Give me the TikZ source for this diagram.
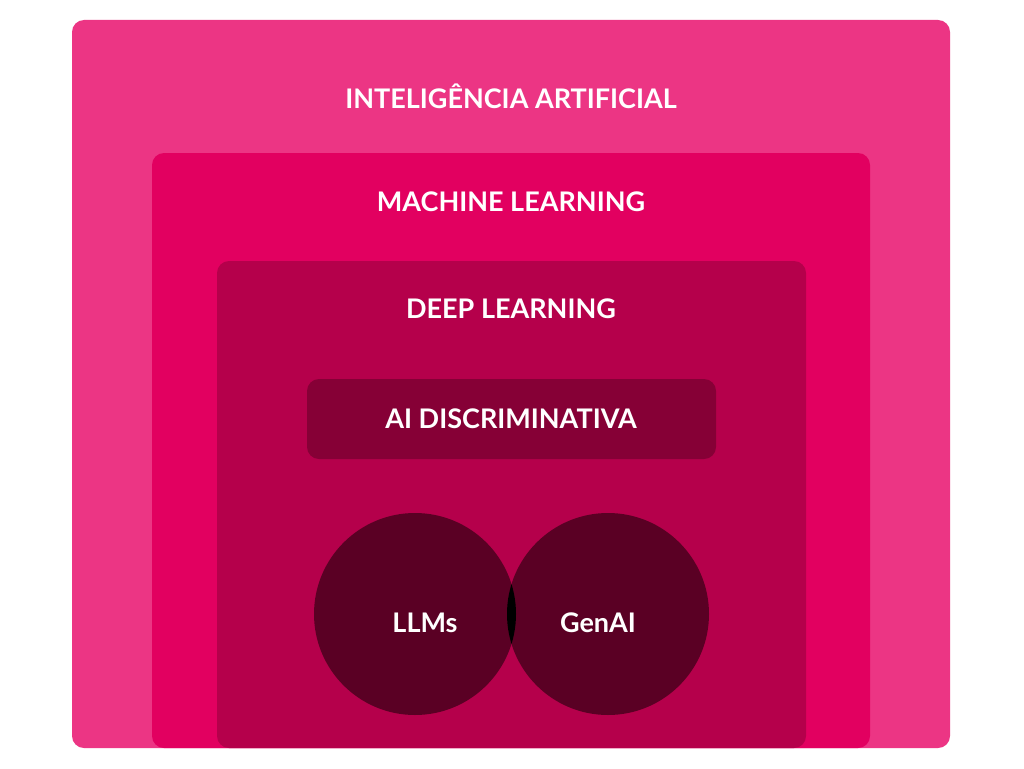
\documentclass[tikz,border=0pt]{standalone}
\usepackage{fontspec}
\setmainfont{Lato}
\definecolor{cA}{HTML}{EC3584}
\definecolor{cB}{HTML}{E20060}
\definecolor{cC}{HTML}{B5004B}
\definecolor{cD}{HTML}{860036}
\definecolor{cE}{HTML}{5A0024}
\begin{document}
\begin{tikzpicture}[x=1pt,y=-1pt,
  lbl/.style={text=white,font=\fontsize{27}{30}\selectfont\bfseries},
  box/.style={rounded corners=12pt}]
\useasboundingbox (0,0) rectangle (1024,768);
\fill[white] (0,0) rectangle (1024,768);
\fill[cA,box] (72,20) rectangle (950,748);
\fill[cB,box] (152,153) rectangle (870,748);
\fill[cC,box] (217,261) rectangle (806,748);
\fill[cD,box] (307,379) rectangle (716,459);
\fill[cE] (415,614) circle (101);
\fill[cE] (608,614) circle (101);
\begin{scope}
\clip (415,614) circle (101);
\fill[black] (608,614) circle (101);
\end{scope}
\node[lbl] (ia) at (511,96) {INTELIGÊNCIA ARTIFICIAL};
\node[lbl] (ml) at (511,202) {MACHINE LEARNING};
\node[lbl] (dl) at (511,309) {DEEP LEARNING};
\node[lbl] (ad) at (511,419) {AI DISCRIMINATIVA};
\node[lbl] (llm) at (425,623) {LLMs};
\node[lbl] (gen) at (598,623) {GenAI};
\end{tikzpicture}
\end{document}
